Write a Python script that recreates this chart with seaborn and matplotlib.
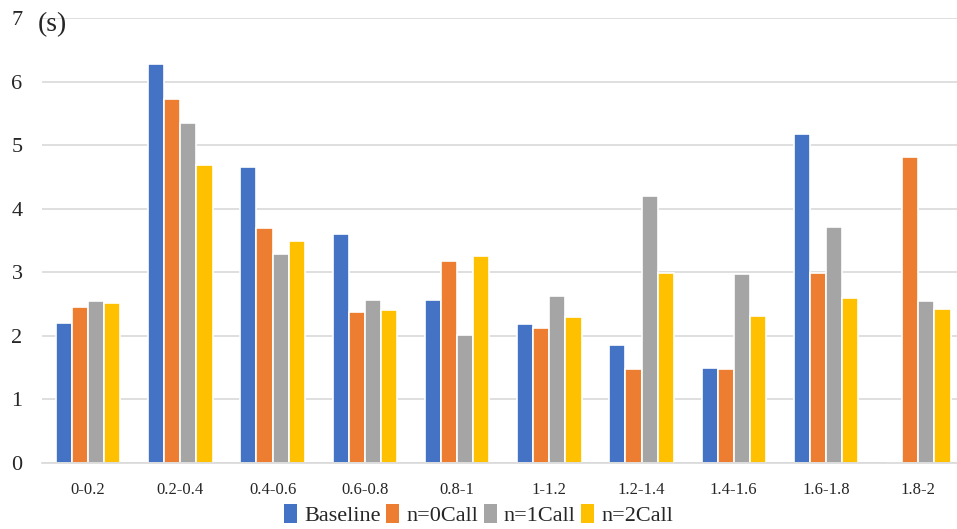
import matplotlib
matplotlib.use("Agg")
import matplotlib.pyplot as plt
import seaborn as sns
import pandas as pd
from matplotlib.patches import Patch

categories = ["0-0.2", "0.2-0.4", "0.4-0.6", "0.6-0.8", "0.8-1",
              "1-1.2", "1.2-1.4", "1.4-1.6", "1.6-1.8", "1.8-2"]
series_names = ["Baseline", "n=0Call", "n=1Call", "n=2Call"]
baseline = [2.21, 6.28, 4.66, 3.61, 2.57, 2.19, 1.85, 1.49, 5.17, 0.0]
n0call = [2.45, 5.73, 3.70, 2.38, 3.18, 2.13, 1.48, 1.48, 2.99, 4.81]
n1call = [2.55, 5.35, 3.29, 2.56, 2.02, 2.62, 4.20, 2.98, 3.72, 2.55]
n2call = [2.52, 4.69, 3.50, 2.41, 3.26, 2.30, 2.99, 2.32, 2.59, 2.43]
colors = ["#4472C4", "#ED7D31", "#A5A5A5", "#FFC000"]

rows = []
for name, vals in zip(series_names, [baseline, n0call, n1call, n2call]):
    for c, v in zip(categories, vals):
        rows.append({"cat": c, "series": name, "value": v})
df = pd.DataFrame(rows)

sns.set_style("white")
plt.rcParams["font.family"] = ["Liberation Serif", "DejaVu Serif"]

fig = plt.figure(figsize=(9.57, 5.29), dpi=100)
ax = fig.add_axes([42 / 957, 66 / 529, 1 - 42 / 957, (463 - 18) / 529])

sns.barplot(data=df, x="cat", y="value", hue="series", order=categories,
            hue_order=series_names, palette=colors, width=0.7,
            edgecolor="white", linewidth=1.2, ax=ax, legend=False,
            errorbar=None, saturation=1)

ax.set_ylim(0, 7)
ax.set_xlim(-0.5, 9.42)
ax.set_yticks(range(0, 8))
ax.yaxis.grid(True, color="#D9D9D9", linewidth=1.2)
ax.set_axisbelow(True)
for s in ["top", "right", "left"]:
    ax.spines[s].set_visible(False)
ax.spines["bottom"].set_color("#D9D9D9")
ax.spines["bottom"].set_linewidth(1.2)
ax.set_xlabel("")
ax.set_ylabel("")
ax.tick_params(axis="y", labelsize=16, length=0, pad=14)
ax.tick_params(axis="x", labelsize=12, length=0, pad=14)

fig.text(38 / 957, 1 - 25 / 529, "(s)", fontsize=20, va="center", ha="left")

handles = [Patch(facecolor=c, edgecolor="none") for c in colors]
fig.legend(handles, series_names, loc="center", bbox_to_anchor=(0.5, 1 - 515 / 529),
           ncol=4, frameon=False, fontsize=16, handlelength=0.6, handleheight=0.9,
           handletextpad=0.3, columnspacing=0.25, borderaxespad=0)

fig.savefig("out.png", dpi=100)
